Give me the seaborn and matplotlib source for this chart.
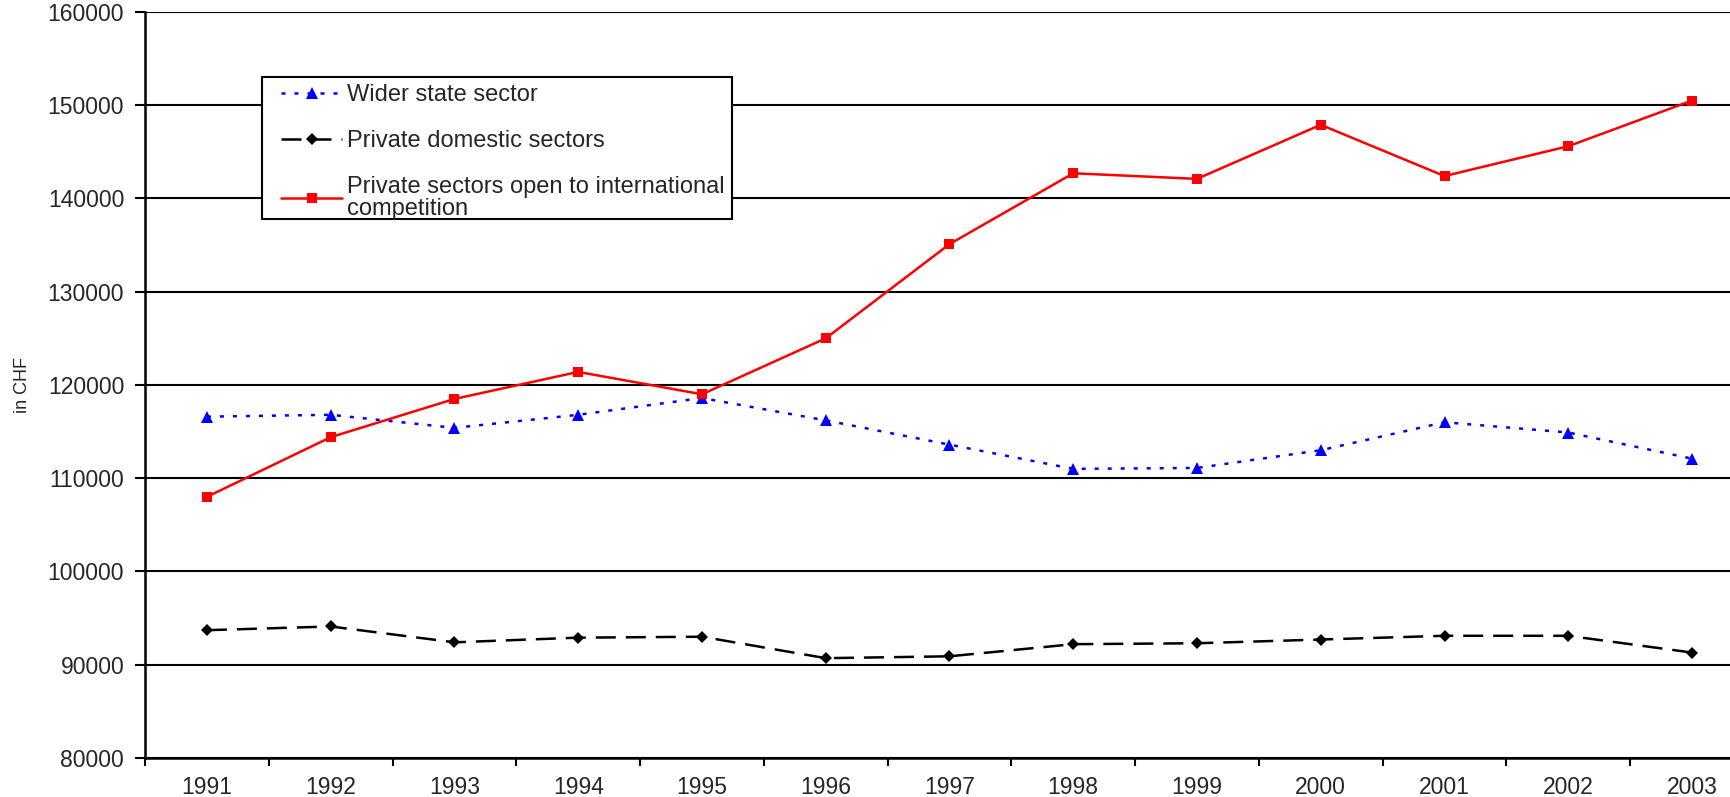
import numpy as np
import pandas as pd
import matplotlib
matplotlib.use("Agg")
import matplotlib.pyplot as plt
from matplotlib.patches import Rectangle
import seaborn as sns

# datos (CHF)
years = ["1991", "1992", "1993", "1994", "1995", "1996", "1997",
         "1998", "1999", "2000", "2001", "2002", "2003"]
wider_state = [116600, 116800, 115400, 116800, 118600, 116200, 113600,
               111000, 111100, 113000, 116000, 114900, 112100]
private_domestic = [93700, 94100, 92400, 92900, 93000, 90700, 90900,
                    92200, 92300, 92700, 93100, 93100, 91300]
private_open = [108000, 114400, 118500, 121400, 119000, 125000, 135100,
                142700, 142100, 147900, 142400, 145600, 150500]
y_ticks = list(range(80000, 160001, 10000))

sns.set_style("white")
plt.rcParams["font.family"] = ["Liberation Sans", "DejaVu Sans"]

pos = np.arange(len(years))
df = pd.DataFrame({"pos": pos, "wider": wider_state,
                   "domestic": private_domestic, "open": private_open})

fig = plt.figure(figsize=(17.31, 7.97), dpi=100)
ax = fig.add_axes([0.0838, 0.049, 0.9162, 0.936])

sns.lineplot(data=df, x="pos", y="wider", ax=ax, color="#0000ff",
             linewidth=1.8, linestyle=(0, (1.6, 3.6)), marker="^",
             markersize=9, markeredgewidth=0, label="Wider state sector")
sns.lineplot(data=df, x="pos", y="domestic", ax=ax, color="black",
             linewidth=1.8, linestyle=(0, (8, 4)), marker="D",
             markersize=6, markeredgewidth=0, label="Private domestic sectors")
sns.lineplot(data=df, x="pos", y="open", ax=ax, color="#ff0000",
             linewidth=1.8, marker="s", markersize=7.5, markeredgewidth=0,
             label="Private sectors open to international\ncompetition")

ax.set_ylim(80000, 160000)
ax.set_xlim(-0.5, 12.315)
ax.set_yticks(y_ticks)
ax.set_yticklabels([str(v) for v in y_ticks], fontsize=16.5)
ax.yaxis.grid(True, color="black", linewidth=1.5)
ax.set_axisbelow(True)

# ticks entre categorias, etiquetas en el centro
ax.set_xticks(np.arange(-0.5, 12.5, 1.0))
ax.set_xticklabels([])
ax.set_xticks(pos, minor=True)
ax.set_xticklabels(years, minor=True, fontsize=16.5)
ax.tick_params(axis="x", which="major", direction="out", length=6,
               width=1.5, color="black", bottom=True)
ax.tick_params(axis="x", which="minor", length=0, pad=13)
ax.tick_params(axis="y", direction="out", length=7, width=1.5,
               color="black", left=True, pad=8)

for s in ["top", "right"]:
    ax.spines[s].set_visible(False)
for s in ["left", "bottom"]:
    ax.spines[s].set_color("black")
    ax.spines[s].set_linewidth(1.8)

ax.set_xlabel("")
ax.set_ylabel("in CHF", fontsize=13)
ax.yaxis.set_label_coords(-0.072, 0.5)

# marco de la leyenda dibujado aparte (mas margen a la izquierda)
ax.add_patch(Rectangle((0.0738, 0.7225), 0.2962, 0.1905, transform=ax.transAxes,
                       facecolor="white", edgecolor="black", linewidth=1.5,
                       zorder=4))
leg = ax.legend(loc="upper left", bbox_to_anchor=(0.0856, 0.903),
                borderaxespad=0, fontsize=17, frameon=False,
                handlelength=2.6, handletextpad=0.2, labelspacing=1.0,
                borderpad=0)
leg.set_zorder(5)
leg.get_texts()[2].set_linespacing(1.0)

fig.savefig("out.png", dpi=100)
